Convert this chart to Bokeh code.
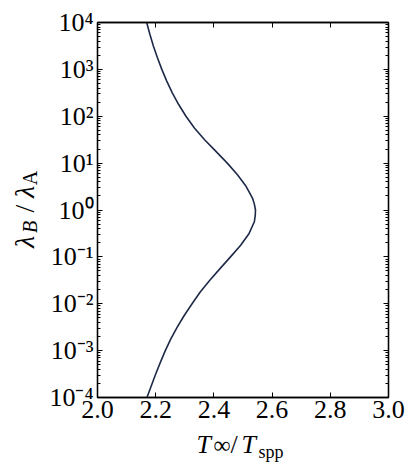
import math
from bokeh.plotting import figure
from bokeh.layouts import column, row
from bokeh.models import (Range1d, FixedTicker, LinearAxis, LogAxis,
                          CustomJSTickFormatter)
from bokeh.core.properties import value
from bokeh.embed import file_html
from bokeh.resources import INLINE

# ---- data ----
lam_ratio = [1e4, 5623.0, 3162.0, 1778.0, 1e3, 562.3, 316.2, 177.8, 100.0,
             56.23, 31.62, 17.78, 10.0, 5.623, 3.162, 1.778, 1.334, 1.0,
             0.7499, 0.5623, 0.3162, 0.1778, 0.1, 0.05623, 0.03162, 0.01778,
             0.01, 0.005623, 0.003162, 0.001778, 0.001, 5.623e-4, 3.162e-4,
             1.778e-4, 1e-4]
t_ratio = [2.169, 2.180, 2.192, 2.206, 2.221, 2.238, 2.257, 2.279, 2.304,
           2.333, 2.368, 2.407, 2.446, 2.481, 2.511, 2.533, 2.539, 2.543,
           2.542, 2.539, 2.521, 2.492, 2.457, 2.421, 2.386, 2.353,
           2.325, 2.298, 2.274, 2.252, 2.233, 2.216, 2.200,
           2.185, 2.170]

x_ticks = [2.0, 2.2, 2.4, 2.6, 2.8, 3.0]
y_exponents = [-4, -3, -2, -1, 0, 1, 2, 3, 4]

FONT = "Liberation Serif"
LINE_COLOR = "#1d2947"
TICK_SIZE = "26px"
W, H = 416, 471

p = figure(x_range=Range1d(2.0, 3.0), y_range=Range1d(1e-4, 1e4),
           y_axis_type="log", frame_width=291, frame_height=375,
           min_border_left=97, min_border_right=28, min_border_top=22,
           min_border_bottom=74, output_backend="svg", toolbar_location=None,
           background_fill_color="white", border_fill_color="white")
p.grid.visible = False
p.outline_line_color = "black"
p.outline_line_width = 1.3

p.line(t_ratio, lam_ratio, line_color=LINE_COLOR, line_width=1.6,
       line_join="round")

y_major = [10.0 ** e for e in y_exponents]
y_minor = [m * 10.0 ** e for e in y_exponents[:-1] for m in range(2, 10)]
xt = FixedTicker(ticks=x_ticks)
yt = FixedTicker(ticks=y_major, minor_ticks=y_minor)

sup_fmt = CustomJSTickFormatter(code="""
const sup = {"-":"\u207b","0":"\u2070","1":"\u00b9","2":"\u00b2","3":"\u00b3",
             "4":"\u2074","5":"\u2075","6":"\u2076","7":"\u2077","8":"\u2078","9":"\u2079"};
const e = Math.round(Math.log10(tick));
return "10" + String(e).split("").map(c => sup[c]).join("");
""")
x_fmt = CustomJSTickFormatter(code="return tick.toFixed(1);")
blank = CustomJSTickFormatter(code="return '';")


def style(ax, minor=True):
    ax.axis_line_color = "black"
    ax.axis_line_width = 1.3
    ax.major_tick_in = 5
    ax.major_tick_out = 0
    ax.major_tick_line_color = "black"
    ax.major_tick_line_width = 1
    if minor:
        ax.minor_tick_in = 3
        ax.minor_tick_out = 0
        ax.minor_tick_line_color = "black"
    else:
        ax.minor_tick_line_color = None
    ax.major_label_text_font = FONT
    ax.major_label_text_font_size = TICK_SIZE
    ax.major_label_text_color = "black"


xa = p.xaxis[0]
xa.ticker = xt
xa.formatter = x_fmt
style(xa, minor=False)
xa.major_label_standoff = 3

ya = p.yaxis[0]
ya.ticker = yt
ya.formatter = sup_fmt
style(ya)
ya.major_label_standoff = 4

top = LinearAxis(ticker=xt, formatter=blank)
style(top, minor=False)
p.add_layout(top, "above")
right = LogAxis(ticker=yt, formatter=blank)
style(right)
p.add_layout(right, "right")

# ---- transparent overlay (page pixels) carrying the composed axis labels ----
ov = figure(width=W, height=H, x_range=Range1d(0, W), y_range=Range1d(0, H),
            min_border=0, x_axis_location=None, y_axis_location=None,
            output_backend="svg", toolbar_location=None,
            background_fill_color=None, border_fill_color=None)
ov.outline_line_color = None
ov.grid.visible = False
ov.margin = (-H, 0, 0, 0)


def piece(x, page_y, text, size, style="normal", angle=0.0,
          align="left", baseline="alphabetic"):
    ov.text(x=[x], y=[H - page_y], text=[text], angle=angle,
            text_font=value(FONT), text_font_size=value(size),
            text_font_style=value(style), text_color="black",
            text_align=align, text_baseline=baseline)


# x label: T_inf / T_spp
piece(196, 444, "T", "26px", "italic")
piece(213, 444, "\u221e", "24px")
piece(230, 444, "/", "26px")
piece(241, 444, "T", "26px", "italic")
piece(258, 451, "spp", "18px")

# y label: lambda_B / lambda_A, rotated to read upward (centre-anchored pieces)
A = math.pi / 2
piece(24, 241.5, "\u03bb", "28px", "italic", A, "center", "middle")
piece(29, 226.5, "B", "20px", "italic", A, "center", "middle")
piece(24, 208, "/", "28px", "normal", A, "center", "middle")
piece(24, 191.5, "\u03bb", "28px", "italic", A, "center", "middle")
piece(29, 177.5, "A", "20px", "normal", A, "center", "middle")

layout = column(row(p, spacing=0), row(ov, spacing=0), spacing=0)
open("out.html", "w").write(file_html(layout, INLINE))
